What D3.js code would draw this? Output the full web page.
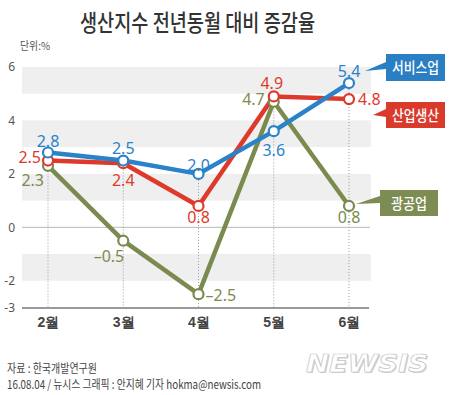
<!DOCTYPE html>
<html><head><meta charset="utf-8">
<script src="https://cdn.jsdelivr.net/npm/d3@7"></script>
<style>
html,body{margin:0;padding:0;background:#fff;}
svg{display:block;font-family:"Noto Sans CJK KR","Noto Sans",sans-serif;}
</style></head>
<body>
<svg id="chart" width="453" height="395"></svg>
<script>
// ---- data ----
const months = ["2월","3월","4월","5월","6월"];
const serviceValues = [2.8, 2.5, 2.0, 3.6, 5.4];   // 서비스업
const industryValues = [2.5, 2.4, 0.8, 4.9, 4.8];  // 산업생산
const miningValues = [2.3, -0.5, -2.5, 4.7, 0.8];  // 광공업
const seriesNames = ["서비스업","산업생산","광공업"];
const yTicks = [6, 4, 2, 0, -2, -3];
const bandRanges = [[6,5],[4,3],[2,1],[-1,-2]];
const titleText = "생산지수 전년동월 대비 증감율";
const unitText = "단위:%";
const sourceText = "자료 : 한국개발연구원";
const creditText = "16.08.04 / 뉴시스 그래픽 : 안지혜 기자 hokma@newsis.com";

// ---- styling / placement (not data) ----
const colors = ["#2a82c9", "#de3a2c", "#7b8b4f"];
const boxColors = ["#2a7fc4", "#d93a2c", "#7d8c52"];
// label placement per series per month: [dx, dy, anchor]
const labelPos = [
  [[0,-6,"middle"],[0,-7,"middle"],[0,-3,"middle"],[0,25,"middle"],[0,-6,"middle"]],
  [[-7,2,"end"],[0,23,"middle"],[0,17,"middle"],[-2,-7,"middle"],[9,6,"start"]],
  [[-4,20,"end"],[1,21,"end"],[7,7,"start"],[-9,3,"end"],[0,17,"middle"]]
];

const svg = d3.select("#chart");
const x = d3.scalePoint().domain(months).range([48, 349]);
const y = d3.scaleLinear().domain([-3, 6]).range([307.5, 67]);
const left = 22, right = 371;

// bands
svg.append("g").selectAll("rect").data(bandRanges).join("rect")
  .attr("x", left).attr("width", right-left)
  .attr("y", d => y(d[0])).attr("height", d => y(d[1]) - y(d[0]))
  .attr("fill", "#efefef");

// zero line
svg.append("line").attr("x1", left).attr("x2", right-1)
  .attr("y1", y(0)).attr("y2", y(0)).attr("stroke", "#b8b8b8").attr("stroke-width", 1);

// y axis labels
const yAxis = d3.axisLeft(y).tickValues(yTicks).tickSize(0).tickPadding(0)
  .tickFormat(d => d < 0 ? "-" + Math.abs(d) : String(d));
const gy = svg.append("g").attr("transform", "translate(15,0)").call(yAxis);
gy.select(".domain").remove();
gy.selectAll("text").attr("font-size", 12).attr("fill", "#555")
  .attr("font-family", "'Noto Sans','Noto Sans CJK KR',sans-serif");

// vertical dotted guides
const allSeries = [serviceValues, industryValues, miningValues];
svg.append("g").selectAll("line").data(months).join("line")
  .attr("x1", d => x(d)).attr("x2", d => x(d))
  .attr("y1", (d,i) => y(d3.max(allSeries, s => s[i])))
  .attr("y2", y(-3))
  .attr("stroke", "#9a9a9a").attr("stroke-width", 1).attr("stroke-dasharray", "1,2");

// x axis
const xAxis = d3.axisBottom(x).tickSize(0).tickPadding(9);
const gx = svg.append("g").attr("transform", `translate(0,${y(-3)})`).call(xAxis);
gx.select(".domain").attr("d", `M${left},0.5H${right-2}`).attr("stroke", "#777").attr("stroke-width", 1.5);
gx.selectAll("text").attr("font-size", 14).attr("font-weight", "bold").attr("fill", "#444")
  .attr("dy", "0.72em");

// lines
const order = [2, 1, 0];
const line = d3.line().x((d,i) => x(months[i])).y(d => y(d));
order.forEach(si => {
  svg.append("path").datum(allSeries[si]).attr("d", line)
    .attr("fill", "none").attr("stroke", colors[si]).attr("stroke-width", 4.5)
    .attr("stroke-linejoin", "round");
});
order.forEach(si => {
  svg.append("g").selectAll("circle").data(allSeries[si]).join("circle")
    .attr("cx", (d,i) => x(months[i])).attr("cy", d => y(d)).attr("r", 5)
    .attr("fill", "#fff").attr("stroke", colors[si]).attr("stroke-width", 2.2);
});

// value labels
order.forEach(si => {
  svg.append("g").selectAll("text").data(allSeries[si]).join("text")
    .attr("x", (d,i) => x(months[i]) + labelPos[si][i][0])
    .attr("y", (d,i) => y(d) + labelPos[si][i][1])
    .attr("text-anchor", (d,i) => labelPos[si][i][2])
    .attr("font-family", "'Noto Sans',sans-serif")
    .attr("font-size", 16).attr("fill", colors[si])
    .text(d => (d < 0 ? "–" + Math.abs(d).toFixed(1) : d.toFixed(1)));
});

// legend boxes with pointers
const boxes = [
  {x:386, y:54, w:59, h:27, tip:[365,71], b:[62,69]},
  {x:386, y:102, w:59, h:26, tip:[373,115], b:[109,117]},
  {x:380, y:190, w:58, h:26, tip:[356,204], b:[196,203]}
];
boxes.forEach((b, i) => {
  svg.append("path")
    .attr("d", `M${b.tip[0]},${b.tip[1]}L${b.x},${b.b[0]}L${b.x},${b.b[1]}Z`)
    .attr("fill", boxColors[i]);
  svg.append("rect").attr("x", b.x).attr("y", b.y).attr("width", b.w).attr("height", b.h)
    .attr("fill", boxColors[i]);
  svg.append("text").attr("x", b.x + b.w/2).attr("y", b.y + b.h/2 + 5.5)
    .attr("text-anchor", "middle").attr("font-size", 15).attr("font-weight", 500)
    .attr("fill", "#fff")
    .attr("textLength", i === 2 ? 36 : 47).attr("lengthAdjust", "spacingAndGlyphs")
    .text(seriesNames[i]);
});

// title
svg.append("text").attr("x", 80).attr("y", 31).attr("font-size", 23).attr("font-weight", 500)
  .attr("fill", "#333").attr("textLength", 235).attr("lengthAdjust", "spacingAndGlyphs")
  .text(titleText);
svg.append("text").attr("x", 20).attr("y", 50).attr("font-size", 11).attr("fill", "#555")
  .attr("textLength", 30).attr("lengthAdjust", "spacingAndGlyphs").text(unitText);

// footer
svg.append("text").attr("x", 7).attr("y", 373).attr("font-size", 12).attr("fill", "#444")
  .attr("textLength", 90).attr("lengthAdjust", "spacingAndGlyphs").text(sourceText);
svg.append("text").attr("x", 7).attr("y", 389).attr("font-size", 12).attr("fill", "#444")
  .attr("textLength", 254).attr("lengthAdjust", "spacingAndGlyphs").text(creditText);

// NEWSIS logo
svg.append("text").attr("x", 306).attr("y", 372).attr("font-size", 25)
  .attr("font-family", "'DejaVu Sans',sans-serif").attr("font-weight", "bold").attr("font-style", "italic")
  .attr("fill", "#cfcfcf").attr("textLength", 122).attr("lengthAdjust", "spacingAndGlyphs")
  .attr("transform", "translate(1.2,1)").text("NEWSIS");
svg.append("text").attr("x", 306).attr("y", 372).attr("font-size", 25)
  .attr("font-family", "'DejaVu Sans',sans-serif").attr("font-weight", "bold").attr("font-style", "italic")
  .attr("fill", "#fff").attr("stroke", "#c4c4c4").attr("stroke-width", 0.7)
  .attr("textLength", 122).attr("lengthAdjust", "spacingAndGlyphs").text("NEWSIS");
</script>
</body></html>
